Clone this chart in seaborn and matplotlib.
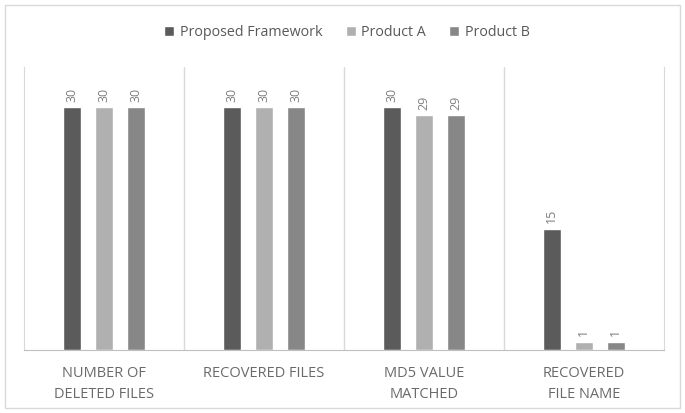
import matplotlib
matplotlib.use('Agg')
import matplotlib.pyplot as plt
import seaborn as sns
import pandas as pd
from matplotlib.patches import Rectangle

categories = ["NUMBER OF\nDELETED FILES", "RECOVERED FILES", "MD5 VALUE\nMATCHED", "RECOVERED\nFILE NAME"]
series = ["Proposed Framework", "Product A", "Product B"]
proposed = [30, 30, 30, 15]
product_a = [30, 30, 29, 1]
product_b = [30, 30, 29, 1]
colors = ["#5b5b5b", "#b0b0b0", "#878787"]

df = pd.DataFrame({
    "category": categories * 3,
    "series": [s for s in series for _ in categories],
    "value": proposed + product_a + product_b,
})

sns.set_style("white")
plt.rcParams['font.family'] = ['Open Sans', 'DejaVu Sans']

fig = plt.figure(figsize=(6.85, 4.13), dpi=100)
ax = fig.add_axes([0.035, 0.153, 0.934, 0.685])

sns.barplot(data=df, x="category", y="value", hue="series", order=categories,
            hue_order=series, palette=colors, width=0.6, gap=0.45, ax=ax,
            saturation=1, legend=True)

for cont in ax.containers:
    ax.bar_label(cont, labels=[f"{int(v)}" for v in cont.datavalues], rotation=90,
                 padding=4, color="#7f7f7f", fontsize=9)

ax.set_ylim(0, 35)
ax.set_xlim(-0.5, 3.5)
ax.set_yticks([])
ax.set_xlabel("")
ax.set_ylabel("")
for x in [0.5, 1.5, 2.5]:
    ax.axvline(x, color="#d9d9d9", lw=1, zorder=0)
for side in ["left", "right"]:
    ax.spines[side].set_color("#d9d9d9")
ax.spines["top"].set_visible(False)
ax.spines["bottom"].set_color("#bfbfbf")
ax.tick_params(axis="x", length=0, pad=12, labelsize=10.5, labelcolor="#6a6a6a")
for t in ax.get_xticklabels():
    t.set_linespacing(1.5)

ax.legend(loc="upper center", bbox_to_anchor=(0.505, 1.195), ncol=3, frameon=False,
          fontsize=10.3, handlelength=0.7, handleheight=0.7, handletextpad=0.4,
          columnspacing=1.6, labelcolor="#595959")

fig.patches.append(Rectangle((0.007, 0.012), 0.986, 0.976, transform=fig.transFigure,
                             fill=False, edgecolor="#d9d9d9", lw=1))

fig.savefig("out.png", dpi=100)
